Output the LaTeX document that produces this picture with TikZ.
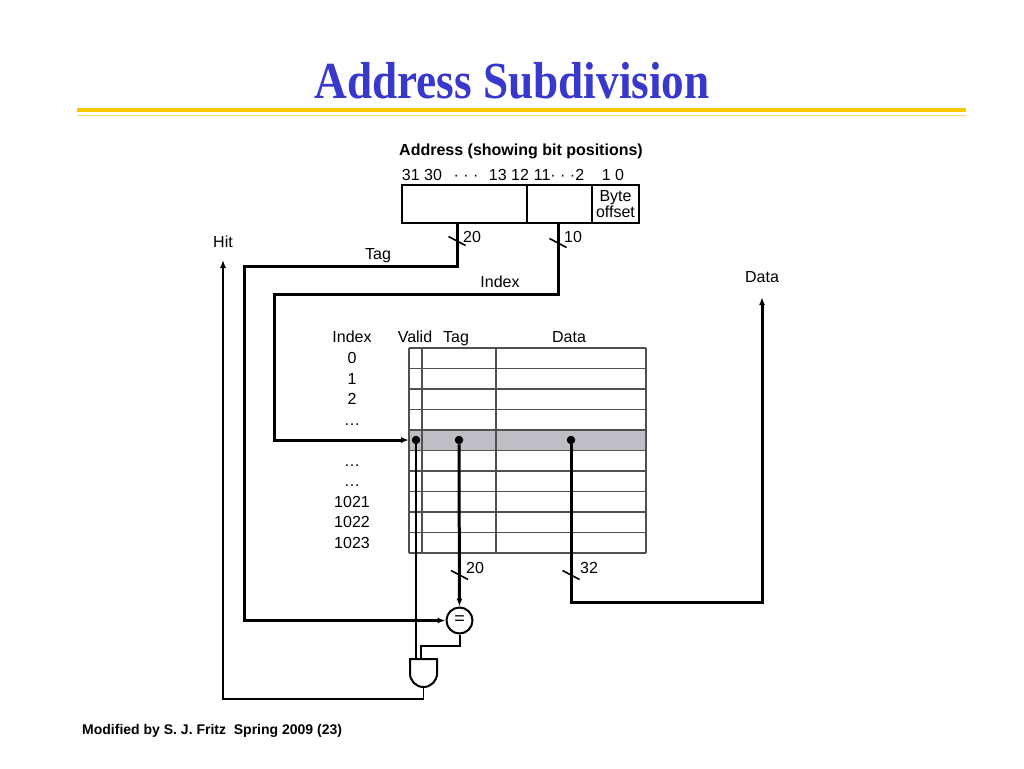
\documentclass[tikz,border=0pt]{standalone}
\usepackage{fontspec}
\setmainfont{Liberation Sans}
\newfontfamily\titlefont{Liberation Serif}
\usetikzlibrary{arrows.meta}
\definecolor{titleblue}{RGB}{56,56,204}
\definecolor{gold}{RGB}{250,200,0}
\definecolor{rowgray}{RGB}{190,190,196}
\definecolor{gridgray}{RGB}{80,80,80}
\begin{document}
\begin{tikzpicture}[x=1pt,y=-1pt,
  lbl/.style={inner sep=0pt, text height=11.5pt, text depth=0pt, font=\fontsize{16}{19}\selectfont},
  bus/.style={line width=3pt, line join=miter},
  wire/.style={line width=2pt},
  thinw/.style={line width=1.3pt},
  gridl/.style={line width=1.4pt, draw=gridgray},
  arr/.style={-{Latex[length=8pt,width=6pt]}},
  dotn/.style={circle, fill=black, inner sep=0pt, minimum size=8.5pt},
]
\useasboundingbox (0,0) rectangle (1024,768);

% title and rules
\node[inner sep=0pt, text=titleblue] (title) at (512,81)
  {\scalebox{0.87}[1]{\titlefont\bfseries\fontsize{52}{62}\selectfont Address Subdivision}};
\draw[gold, line width=4pt] (77,109.5) -- (966,109.5);
\draw[gold!60!white, line width=1.2pt] (77,115.5) -- (966,115.5);

% address
\node[lbl, font=\bfseries\fontsize{16}{19}\selectfont] (addrtitle) at (521,150) {Address (showing bit positions)};
\node[lbl] (b3130) at (422,175) {31 30};
\node[lbl] (bd1) at (466,175) {· · ·};
\node[lbl] (b1312) at (509,175) {13 12};
\node[lbl] (b112) at (559,175) {11· · ·2};
\node[lbl] (b10) at (613,175) {1 0};
\draw[thinw] (402,185) rectangle (639,223);
\draw[thinw] (527,185) -- (527,223);
\draw[thinw] (592,185) -- (592,223);
\node[lbl] (byte) at (615.5,195.5) {Byte};
\node[lbl] (offset) at (615.5,212) {offset};

\coordinate (tagout) at (457,223);
\coordinate (tagc) at (244,266);
\coordinate (idxout) at (558,223);
\coordinate (idxc) at (274,294);
\coordinate (s1) at (457,241);
\coordinate (s2) at (558,243);
\node[lbl] (n20a) at (472,237) {20};
\node[lbl] (n10) at (573,237) {10};
\node[lbl] (taglbl) at (378,254) {Tag};
\node[lbl] (idxlbl) at (500,282) {Index};

% table
\fill[rowgray] (409,430) rectangle (646,450.5);
\foreach \i in {0,...,10} {
  \draw[gridl] (409,348+20.5*\i) -- (646,348+20.5*\i);
}
\foreach \xx in {409,422,496,646} {
  \draw[gridl] (\xx,348) -- (\xx,553);
}
\node[lbl] (hidx) at (352,337) {Index};
\node[lbl] (hvalid) at (415,337) {Valid};
\node[lbl] (htag) at (456,337) {Tag};
\node[lbl] (hdata) at (569,337) {Data};
\node[lbl] (i0) at (352,358) {0};
\node[lbl] (i1) at (352,378.5) {1};
\node[lbl] (i2) at (352,399) {2};
\node[lbl] (i3) at (352,419.5) {…};
\node[lbl] (i5) at (352,460.5) {…};
\node[lbl] (i6) at (352,481) {…};
\node[lbl] (i7) at (352,501.5) {1021};
\node[lbl] (i8) at (352,522) {1022};
\node[lbl] (i9) at (352,542.5) {1023};

\coordinate (row5W) at (409,440);
\node[dotn] (dv) at (416,440) {};
\node[dotn] (dt) at (459,440) {};
\node[dotn] (dd) at (571,440) {};

% comparator and gate
\node[draw, circle, line width=2pt, minimum size=26pt, inner sep=0pt, font=\fontsize{18}{20}\selectfont] (eq) at (459.5,620.5) {=};
\coordinate (gTL) at (410,659);
\coordinate (gTR) at (437,659);
\coordinate (gin1) at (416,659);
\coordinate (gin2) at (421,659);
\coordinate (gout) at (423.5,687);
\coordinate (eqc) at (421,646);
\draw[wire] (gTL) -- (gTR) -- (437,673.5) arc[start angle=0, end angle=-180, radius=13.5pt] -- cycle;

% buses
\draw[bus, arr] (tagout) |- (tagc) |- (eq);
\draw[bus, arr] (idxout) |- (idxc) |- (row5W);
\draw[bus, arr] (dt) -- (eq);
\coordinate (dc1) at (571,602);
\coordinate (dc2) at (762,602);
\coordinate (dataout) at (762,297);
\draw[bus, arr] (dd) -- (dc1) -- (dc2) -- (dataout);
\coordinate (s3) at (459.5,575);
\coordinate (s4) at (571,575);
\node[lbl] (n20b) at (475,568) {20};
\node[lbl] (n32) at (589,568) {32};
\node[lbl] (datalbl) at (762,277) {Data};

% slashes
\foreach \s in {s1,s2,s3,s4} {
  \draw[line width=1.6pt] ([shift={(-8.5,-4.5)}]\s) -- ([shift={(8.5,4.5)}]\s);
}

% valid and hit
\draw[wire] (dv) -- (gin1);
\draw[wire] (eq.south) |- (eqc) -- (gin2);
\coordinate (hc1) at (423.5,699);
\coordinate (hc2) at (223,699);
\coordinate (hitout) at (223,260);
\draw[thinw, arr] (gout) -- (hc1) -- (hc2) -- (hitout);
\node[lbl] (hitlbl) at (223,242) {Hit};

% footer
\node[anchor=west, inner sep=0pt, font=\bfseries\fontsize{14}{17}\selectfont] (foot) at (82,731) {Modified by S. J. Fritz\ \ Spring 2009 (23)};
\end{tikzpicture}
\end{document}
